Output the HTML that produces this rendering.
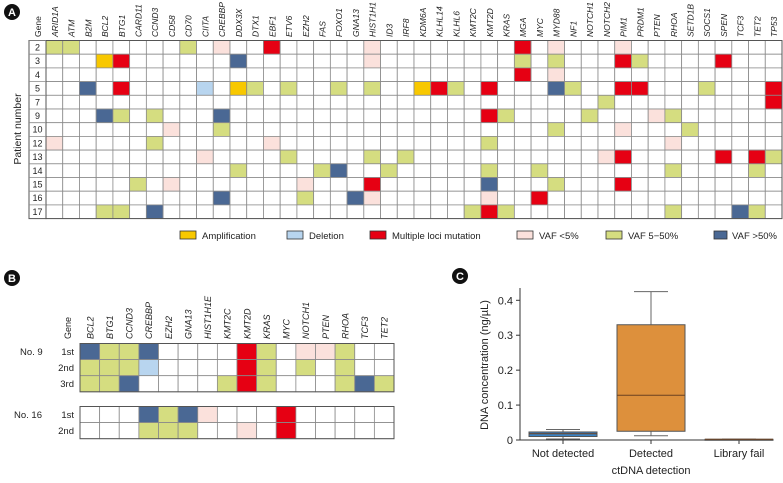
<!DOCTYPE html>
<html><head><meta charset="utf-8">
<style>
body{margin:0;background:#fff;width:783px;height:478px;overflow:hidden;font-family:"Liberation Sans",sans-serif}
svg text{font-family:"Liberation Sans",sans-serif;fill:#222}
</style></head>
<body>
<svg id="fig" width="783" height="478" viewBox="0 0 783 478"></svg>
<script>
const genesA=["ARID1A","ATM","B2M","BCL2","BTG1","CARD11","CCND3","CD58","CD70","CIITA","CREBBP","DDX3X","DTX1","EBF1","ETV6","EZH2","FAS","FOXO1","GNA13","HIST1H1","ID3","IRF8","KDM6A","KLHL14","KLHL6","KMT2C","KMT2D","KRAS","MGA","MYC","MYD88","NF1","NOTCH1","NOTCH2","PIM1","PRDM1","PTEN","RHOA","SETD1B","SOCS1","SPEN","TCF3","TET2","TP53"];
const patientsA=["2","3","4","5","7","9","10","12","13","14","15","16","17"];
const cellsA=[
{ARID1A:"y",ATM:"y",CD70:"y",CREBBP:"p",EBF1:"r",HIST1H1:"p",MGA:"r",MYD88:"p",PIM1:"p"},
{BCL2:"o",BTG1:"r",DDX3X:"b",HIST1H1:"p",MGA:"y",MYD88:"y",PIM1:"r",PRDM1:"y",SPEN:"r"},
{MGA:"r",MYD88:"p"},
{B2M:"b",BTG1:"r",CIITA:"l",DDX3X:"o",DTX1:"y",ETV6:"y",FOXO1:"y",HIST1H1:"y",KDM6A:"o",KLHL14:"r",KLHL6:"y",KMT2D:"r",MYD88:"b",NF1:"y",PIM1:"r",PRDM1:"r",SOCS1:"y",TP53:"r"},
{NOTCH2:"y",TP53:"r"},
{BCL2:"b",BTG1:"y",CCND3:"y",CREBBP:"b",KMT2D:"r",KRAS:"y",NOTCH1:"y",PTEN:"p",RHOA:"y"},
{CD58:"p",CREBBP:"y",MYD88:"y",PIM1:"p",SETD1B:"y"},
{ARID1A:"p",CCND3:"y",EBF1:"p",KMT2D:"y",RHOA:"p"},
{CIITA:"p",ETV6:"y",HIST1H1:"y",IRF8:"y",NOTCH2:"p",PIM1:"r",SPEN:"r",TET2:"r",TP53:"y"},
{DDX3X:"y",FAS:"y",FOXO1:"b",ID3:"y",KMT2D:"y",MYC:"y",RHOA:"y",TET2:"y"},
{CARD11:"y",CD58:"p",EZH2:"p",HIST1H1:"r",KMT2D:"b",MYD88:"y",PIM1:"r"},
{CREBBP:"b",EZH2:"y",GNA13:"b",HIST1H1:"p",KMT2D:"p",MYC:"r"},
{BCL2:"y",BTG1:"y",CCND3:"b",KMT2C:"y",KMT2D:"r",KRAS:"y",RHOA:"y",TCF3:"b",TET2:"y"}];
const genesB=["BCL2","BTG1","CCND3","CREBBP","EZH2","GNA13","HIST1H1E","KMT2C","KMT2D","KRAS","MYC","NOTCH1","PTEN","RHOA","TCF3","TET2"];
const rowsB9=["1st","2nd","3rd"];
const cellsB9=[
{BCL2:"b",BTG1:"y",CCND3:"y",CREBBP:"b",KMT2D:"r",KRAS:"y",NOTCH1:"p",PTEN:"p",RHOA:"y"},
{BCL2:"y",BTG1:"y",CCND3:"y",CREBBP:"l",KMT2D:"r",KRAS:"y",NOTCH1:"y",RHOA:"y"},
{BCL2:"y",BTG1:"y",CCND3:"b",KMT2C:"y",KMT2D:"r",KRAS:"y",RHOA:"y",TCF3:"b",TET2:"y"}];
const rowsB16=["1st","2nd"];
const cellsB16=[
{CREBBP:"b",EZH2:"y",GNA13:"b",HIST1H1E:"p",MYC:"r"},
{CREBBP:"y",EZH2:"y",GNA13:"y",KMT2D:"p",MYC:"r"}];
const legendLabels=["Amplification","Deletion","Multiple loci mutation","VAF <5%","VAF 5\u221250%","VAF >50%"];
const legendKeys=["o","l","r","p","y","b"];
const boxCats=["Not detected","Detected","Library fail"];
const boxMin=[0.003,0.012,0.002];
const boxQ1=[0.01,0.025,0.002];
const boxMed=[0.018,0.128,0.002];
const boxQ3=[0.023,0.33,0.002];
const boxMax=[0.03,0.425,0.002];
const yTicks=[0,0.1,0.2,0.3,0.4];

const COL={y:"#d5dd80",p:"#fbe1dc",r:"#e60013",b:"#4a6894",o:"#f8c800",l:"#b8d5ef"};
const NS="http://www.w3.org/2000/svg";
const svg=document.getElementById("fig");
function mk(tag,attrs,parent){const e=document.createElementNS(NS,tag);for(const k in attrs)e.setAttribute(k,attrs[k]);(parent||svg).appendChild(e);return e;}
function txt(s,attrs,parent){const e=mk("text",attrs,parent);e.textContent=s;return e;}

function badge(x,y,letter,nm){
  const g=mk("g",{});
  
  
  mk("circle",{cx:x,cy:y,r:8,fill:"#111"},g);
  const t=txt(letter,{x:x,y:y+4,"text-anchor":"middle","font-size":11,"font-weight":"bold"},g);
  t.style.fill="#fff";
}
badge(12,12,"A","panel-a-badge");
badge(12,278,"B","panel-b-badge");
badge(460,276,"C","panel-c-badge");

function heatmap(genes,rows,cells,x0,y0,cw,rh,nm){
  const g=mk("g",{});
  
  
  rows.forEach((r,ri)=>{
    genes.forEach((gn,ci)=>{
      const k=cells[ri][gn];
      const c=mk("rect",{x:x0+ci*cw,y:y0+ri*rh,width:cw,height:rh,fill:k?COL[k]:"#fff",stroke:"#8a8a8a","stroke-width":0.8},g);
      
      
    });
  });
  mk("rect",{x:x0,y:y0,width:genes.length*cw,height:rows.length*rh,fill:"none",stroke:"#555","stroke-width":1},g);
  return g;
}
const ax0=46,ay0=40.5,acw=(782-46)/44,arh=13.7;
const gA=heatmap(genesA,patientsA,cellsA,ax0,ay0,acw,arh,"panel-a-heatmap");
mk("rect",{x:29,y:ay0,width:ax0-29,height:patientsA.length*arh,fill:"#fff",stroke:"#555","stroke-width":1},gA);
patientsA.forEach((p,i)=>{
  mk("line",{x1:29,x2:ax0,y1:ay0+i*arh,y2:ay0+i*arh,stroke:"#8a8a8a","stroke-width":0.8},gA);
  const t=txt(p,{x:37.5,y:ay0+i*arh+10,"text-anchor":"middle","font-size":9},gA);
  
  
});
genesA.forEach((gn,i)=>{
  const x=ax0+i*acw+acw/2+3.5;
  const t=txt(gn,{transform:`translate(${x},37) rotate(-90)`,"font-size":8.5,"font-style":"italic"});
  
  
});
txt("Gene",{transform:"translate(41,37) rotate(-90)","font-size":8.5,});
txt("Patient number",{transform:"translate(21,129) rotate(-90)","font-size":10.5,"text-anchor":"middle",});

const lg=mk("g",{});


const legX=[180,287,370,517,606,714];
legendLabels.forEach((l,i)=>{
  const e=mk("g",{},lg);
  
  
  mk("rect",{x:legX[i],y:231,width:(i==5?13:16),height:8,fill:COL[legendKeys[i]],stroke:"#333","stroke-width":0.8},e);
  txt(l,{x:legX[i]+(i==5?18:22),y:239,"font-size":9.5},e);
});

const bx0=80,bcw=(394-80)/16,brh=16.1;
heatmap(genesB,rowsB9,cellsB9,bx0,343.5,bcw,brh,"panel-b-no9-heatmap");
heatmap(genesB,rowsB16,cellsB16,bx0,406.5,bcw,brh,"panel-b-no16-heatmap");
genesB.forEach((gn,i)=>{
  const x=bx0+i*bcw+bcw/2+3.5;
  const t=txt(gn,{transform:`translate(${x},339) rotate(-90)`,"font-size":9,"font-style":"italic"});
  
  
});
txt("Gene",{transform:"translate(71,339) rotate(-90)","font-size":9,});
rowsB9.forEach((r,i)=>{const t=txt(r,{x:74,y:343.5+i*brh+11.5,"text-anchor":"end","font-size":9.5});});
rowsB16.forEach((r,i)=>{const t=txt(r,{x:74,y:406.5+i*brh+11.5,"text-anchor":"end","font-size":9.5});});
txt("No. 9",{x:20,y:355,"font-size":9.5,});
txt("No. 16",{x:14,y:418,"font-size":9.5,});

const cx0=520,cy0=440,cyTop=300.3,xEnd=773;
function yS(v){return cy0-(v/0.4)*(cy0-cyTop);}
const catX0=563,catStep=88;
function xS(i){return catX0+i*catStep;}
const gC=mk("g",{});


const ya=mk("g",{},gC);


mk("line",{x1:cx0,x2:cx0,y1:288,y2:cy0,stroke:"#333","stroke-width":1},ya);
yTicks.forEach(v=>{
  mk("line",{x1:cx0-4,x2:cx0,y1:yS(v),y2:yS(v),stroke:"#333","stroke-width":1},ya);
  const t=txt(String(v),{x:cx0-7,y:yS(v)+4,"text-anchor":"end","font-size":11},ya);
  
  
});
const xa=mk("g",{},gC);


mk("line",{x1:cx0,x2:xEnd,y1:cy0,y2:cy0,stroke:"#333","stroke-width":1},xa);
const boxFill=["#3a82c4","#dd903c","#888"];
boxCats.forEach((c,i)=>{
  const x=xS(i),w=68;
  const g=mk("g",{},gC);
  
  
  mk("line",{x1:x,x2:x,y1:yS(boxMax[i]),y2:yS(boxMin[i]),stroke:"#666","stroke-width":1},g);
  mk("line",{x1:x-17,x2:x+17,y1:yS(boxMax[i]),y2:yS(boxMax[i]),stroke:"#666","stroke-width":1},g);
  mk("line",{x1:x-17,x2:x+17,y1:yS(boxMin[i]),y2:yS(boxMin[i]),stroke:"#666","stroke-width":1},g);
  mk("rect",{x:x-w/2,y:yS(boxQ3[i]),width:w,height:Math.max(1,yS(boxQ1[i])-yS(boxQ3[i])),fill:boxFill[i],stroke:"#555","stroke-width":1},g);
  mk("line",{x1:x-w/2,x2:x+w/2,y1:yS(boxMed[i]),y2:yS(boxMed[i]),stroke:"#6b4020","stroke-width":1},g);
  mk("line",{x1:x,x2:x,y1:cy0,y2:cy0+4,stroke:"#333","stroke-width":1},xa);
  const t=txt(c,{x:x,y:457,"text-anchor":"middle","font-size":11},xa);
  
  
});
txt("ctDNA detection",{x:651,y:474,"text-anchor":"middle","font-size":11,});
txt("DNA concentration (ng/\u00b5L)",{transform:"translate(488,365) rotate(-90)","text-anchor":"middle","font-size":11,});
</script>
</body></html>
